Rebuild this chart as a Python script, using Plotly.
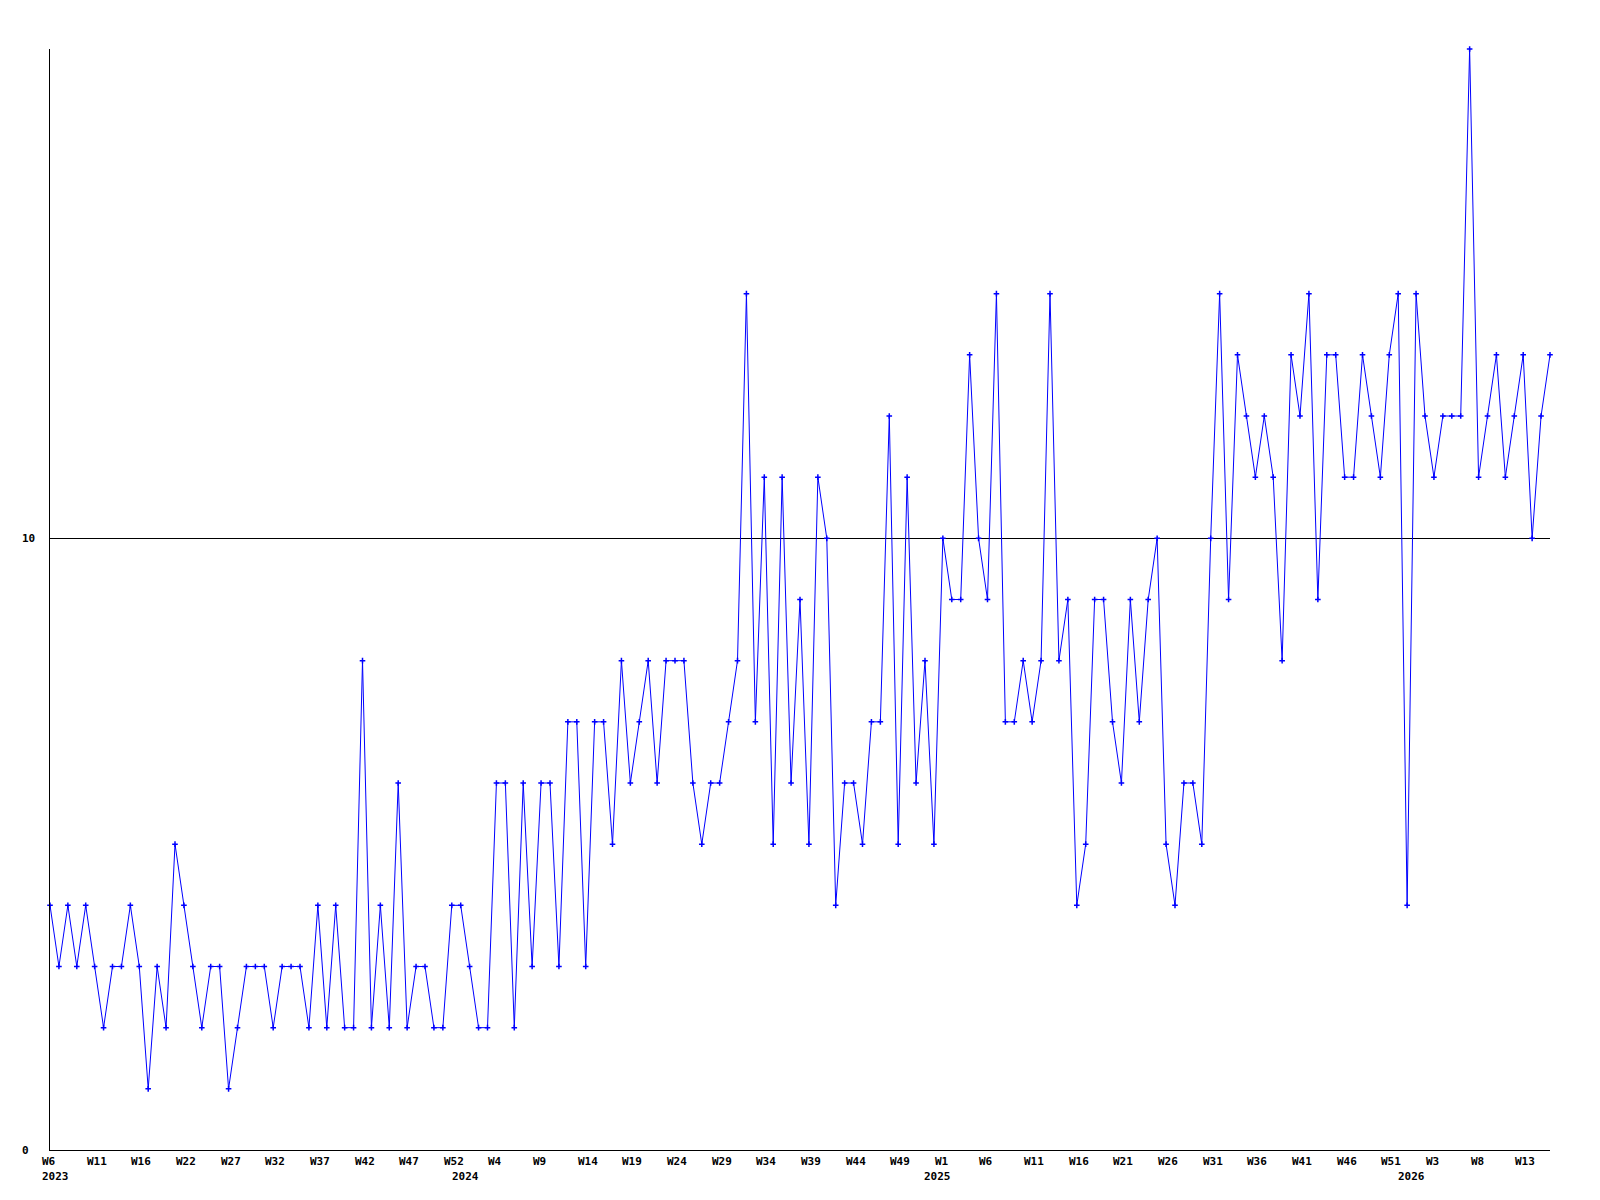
import plotly.graph_objects as go

# weekly values, 2023-W6 ... 2026-W15 (one point per week)
values = [
    4, 3, 4, 3, 4, 3, 2, 3, 3, 4, 3, 1, 3, 2, 5, 4, 3, 2, 3, 3, 1, 2,
    3, 3, 3, 2, 3, 3, 3, 2, 4, 2, 4, 2, 2, 8, 2, 4, 2, 6, 2, 3, 3,
    2, 2, 4, 4, 3, 2, 2, 6, 6, 2, 6, 3, 6, 6, 3, 7, 7, 3, 7, 7, 5,
    8, 6, 7, 8, 6, 8, 8, 8, 6, 5, 6, 6, 7, 8, 14, 7, 11, 5, 11, 6, 9, 5,
    11, 10, 4, 6, 6, 5, 7, 7, 12, 5, 11, 6, 8, 5, 10, 9, 9, 13, 10, 9, 14,
    7, 7, 8, 7, 8, 14, 8, 9, 4, 5, 9, 9, 7, 6, 9, 7, 9, 10, 5, 4, 6, 6,
    5, 10, 14, 9, 13, 12, 11, 12, 11, 8, 13, 12, 14, 9, 13, 13, 11, 11, 13, 12, 11,
    13, 14, 4, 14, 12, 11, 12, 12, 12, 18, 11, 12, 13, 11, 12, 13, 10, 12, 13,
]

week_labels = [
    "W6", "W11", "W16", "W22", "W27", "W32", "W37", "W42", "W47", "W52",
    "W4", "W9", "W14", "W19", "W24", "W29", "W34", "W39", "W44", "W49",
    "W1", "W6", "W11", "W16", "W21", "W26", "W31", "W36", "W41", "W46", "W51",
    "W3", "W8", "W13",
]
year_labels = ["2023", "2024", "2025", "2026"]
year_label_weeks = [-1.12, 44.8, 97.65, 150.7]

y_tick_vals = [0, 10]

x = list(range(len(values)))
span = len(values) - 1

fig = go.Figure()
fig.add_trace(go.Scatter(
    x=x, y=values, mode="lines+markers",
    line=dict(color="#0000ff", width=1),
    marker=dict(symbol="cross-thin", size=4, line=dict(color="#0000ff", width=1.5), color="#0000ff"),
    cliponaxis=False, showlegend=False, hoverinfo="skip",
))

font = dict(family="DejaVu Sans Mono", size=11, color="black")
annotations = []
week_step = 5
for k, lab in enumerate(week_labels):
    annotations.append(dict(
        x=(k * week_step - 1.12) / span, y=0, xref="paper", yref="paper",
        text="<b>%s</b>" % lab, showarrow=False, xanchor="left", yanchor="middle",
        yshift=-11, font=font,
    ))
for lab, pos in zip(year_labels, year_label_weeks):
    annotations.append(dict(
        x=pos / span, y=0, xref="paper", yref="paper",
        text="<b>%s</b>" % lab, showarrow=False, xanchor="left", yanchor="middle",
        yshift=-26, font=font,
    ))
for v in y_tick_vals:
    annotations.append(dict(
        x=0, y=v, xref="paper", yref="y",
        text="<b>%d</b>" % v, showarrow=False, xanchor="left", yanchor="middle",
        xshift=-30, font=font,
    ))

fig.update_layout(
    width=1592, height=1192, autosize=False,
    margin=dict(l=42, r=50, t=41, b=50),
    paper_bgcolor="white", plot_bgcolor="white",
    xaxis=dict(range=[0, span], showline=True, linecolor="black", linewidth=1,
               showgrid=False, zeroline=False, showticklabels=False, ticks=""),
    yaxis=dict(range=[0, 18], showline=True, linecolor="black", linewidth=1,
               tickvals=y_tick_vals, showgrid=True, gridcolor="black", gridwidth=1,
               zeroline=False, showticklabels=False, ticks=""),
    annotations=annotations,
)

fig.write_html("out.html")
